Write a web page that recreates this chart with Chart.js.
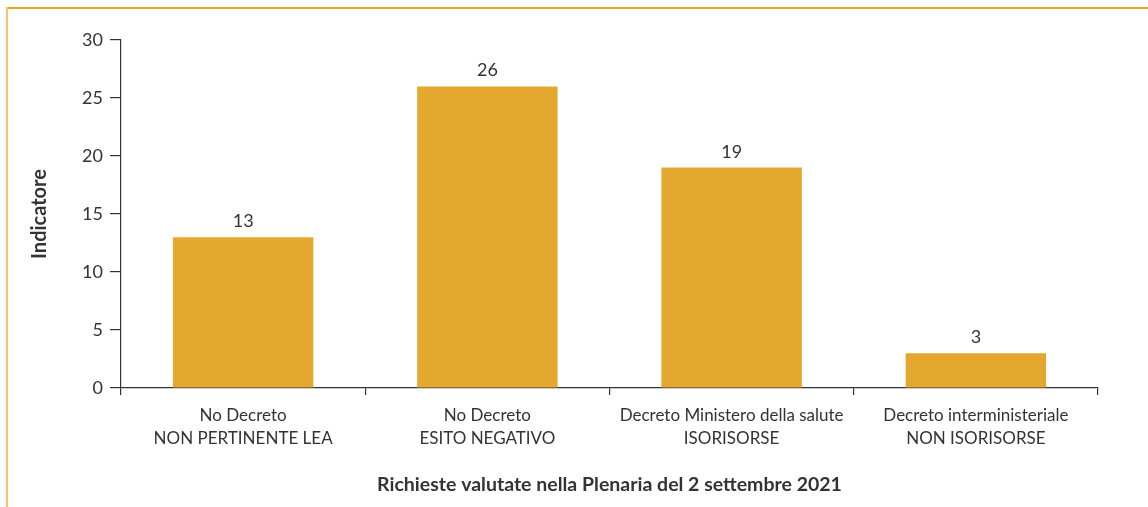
<!DOCTYPE html>
<html>
<head>
<meta charset="utf-8">
<script src="https://cdn.jsdelivr.net/npm/chart.js@4/dist/chart.umd.min.js"></script>
<style>
  html, body { margin: 0; padding: 0; background: #fff; }
  #wrap { position: relative; width: 1148px; height: 507px; overflow: hidden; }
  #frameTop { position: absolute; left: 6px; top: 7px; right: 0; height: 2px; background: #E9A424; }
  #frameLeft { position: absolute; left: 6px; top: 7px; bottom: 0; width: 2px; background: #F2C66C; }
  canvas { position: absolute; left: 0; top: 0; }
</style>
</head>
<body>
<div id="wrap">
  <canvas id="bar-chart" width="1148" height="507"></canvas>
  <div id="frameTop"></div>
  <div id="frameLeft"></div>
</div>
<script>
const categories = [
  ['No Decreto', 'NON PERTINENTE LEA'],
  ['No Decreto', 'ESITO NEGATIVO'],
  ['Decreto Ministero della salute', 'ISORISORSE'],
  ['Decreto interministeriale', 'NON ISORISORSE']
]
const values = [13, 26, 19, 3]
const yTicks = [0, 5, 10, 15, 20, 25, 30]

const textColor = '#333333'
const lineColor = '#333333'
const fontFamily = 'Lato, "Open Sans", sans-serif'

// draws the number above each bar
const valueLabels = {
  id: 'valueLabels',
  afterDatasetsDraw(chart) {
    const ctx = chart.ctx
    ctx.save()
    ctx.font = '18px ' + fontFamily
    ctx.fillStyle = textColor
    ctx.textAlign = 'center'
    ctx.textBaseline = 'alphabetic'
    chart.getDatasetMeta(0).data.forEach((bar, i) => {
      ctx.fillText(values[i], bar.x, bar.y - 10)
    })
    ctx.restore()
  }
}

const data = {
  labels: categories,
  datasets: [{
    data: values,
    backgroundColor: '#E5A82E',
    borderWidth: 0,
    barPercentage: 0.575,
    categoryPercentage: 1
  }]
}

const config = {
  type: 'bar',
  data: data,
  options: {
    responsive: false,
    animation: false,
    layout: { padding: { left: 0, top: 40, right: 50, bottom: 0 } },
    plugins: {
      legend: { display: false },
      tooltip: { enabled: false }
    },
    scales: {
      x: {
        offset: true,
        grid: {
          offset: true,
          drawOnChartArea: false,
          drawTicks: true,
          tickLength: 7,
          color: lineColor,
          lineWidth: 1.2
        },
        border: { display: true, color: lineColor, width: 1.2 },
        ticks: {
          color: textColor,
          padding: 9,
          maxRotation: 0,
          autoSkip: false,
          font: { family: fontFamily, size: 17, lineHeight: 1.35 }
        },
        title: {
          display: true,
          text: 'Richieste valutate nella Plenaria del 2 settembre 2021',
          color: textColor,
          font: { family: fontFamily, size: 19.5, weight: 'bold', lineHeight: 1.2 },
          padding: { top: 0, bottom: 11 }
        },
        afterFit(scale) { scale.height = 119 }
      },
      y: {
        min: 0,
        max: 30,
        afterBuildTicks(scale) { scale.ticks = yTicks.map(v => ({ value: v })) },
        grid: {
          drawOnChartArea: false,
          drawTicks: true,
          tickLength: 11,
          color: lineColor,
          lineWidth: 1.2
        },
        border: { display: true, color: lineColor, width: 1.2 },
        ticks: {
          color: textColor,
          padding: 7,
          font: { family: fontFamily, size: 18 }
        },
        title: {
          display: true,
          text: 'Indicatore',
          color: textColor,
          font: { family: fontFamily, size: 20, weight: 'bold', lineHeight: 1.2 },
          padding: { top: 28, bottom: 0 }
        },
        afterFit(scale) { scale.width = 121 }
      }
    }
  },
  plugins: [valueLabels]
}

let chart = new Chart(document.querySelector('#bar-chart'), config)
</script>
</body>
</html>
